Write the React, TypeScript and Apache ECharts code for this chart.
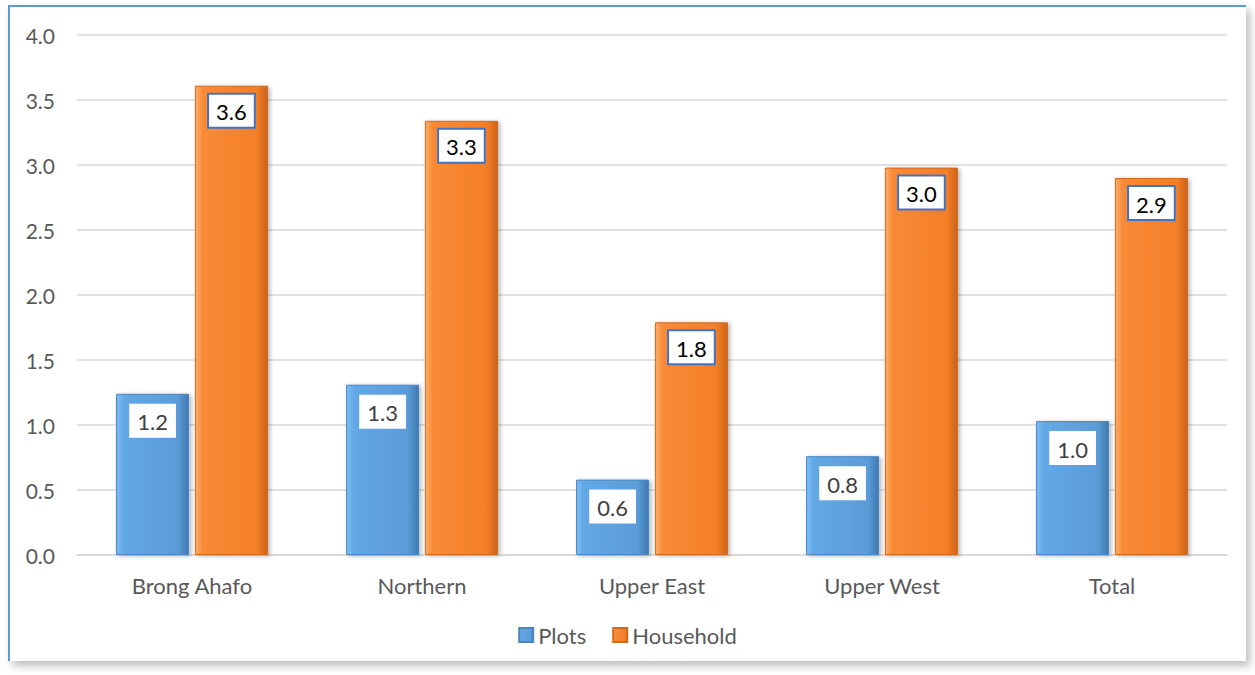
import React, { useEffect, useRef } from "react";
import * as echarts from "echarts";

const categories = ["Brong Ahafo", "Northern", "Upper East", "Upper West", "Total"];
const plots = [1.24, 1.31, 0.58, 0.76, 1.03];
const household = [3.61, 3.34, 1.79, 2.98, 2.9];
const yTicks = { min: 0, max: 4, interval: 0.5 };

const FONT = "Lato";

const blueGrad = new echarts.graphic.LinearGradient(0, 0, 1, 0, [
  { offset: 0, color: "#7DBDF2" },
  { offset: 0.1, color: "#63A8E6" },
  { offset: 0.85, color: "#5B9CD8" },
  { offset: 1, color: "#3F78B0" },
]);
const orangeGrad = new echarts.graphic.LinearGradient(0, 0, 1, 0, [
  { offset: 0, color: "#FDAE6C" },
  { offset: 0.1, color: "#F98A36" },
  { offset: 0.85, color: "#F37F28" },
  { offset: 1, color: "#CC6217" },
]);

export default function App() {
  const ref = useRef<HTMLDivElement>(null);
  useEffect(() => {
    document.body.style.margin = "0";
    const chart = echarts.init(ref.current!, null, { renderer: "svg" });
    chart.setOption({
      animation: false,
      textStyle: { fontFamily: FONT },
      grid: { left: 77, right: 28, top: 35, bottom: 120 },
      legend: {
        data: ["Plots", "Household"],
        bottom: 24,
        left: "center",
        itemWidth: 14,
        itemHeight: 14,
        itemGap: 26,
        icon: "rect",
        textStyle: { fontSize: 22, color: "#595959", fontFamily: FONT },
      },
      xAxis: {
        type: "category",
        data: categories,
        axisLine: { show: true, lineStyle: { color: "#D9D9D9", width: 1.5 } },
        axisTick: { show: false },
        axisLabel: { fontSize: 22, color: "#595959", margin: 19, fontFamily: FONT },
      },
      yAxis: {
        type: "value",
        min: yTicks.min,
        max: yTicks.max,
        interval: yTicks.interval,
        axisLine: { show: false },
        axisTick: { show: false },
        splitLine: { lineStyle: { color: "#D9D9D9", width: 1.5 } },
        axisLabel: {
          fontSize: 21,
          color: "#595959",
          margin: 22,
          fontFamily: FONT,
          formatter: (v: number) => v.toFixed(1),
        },
      },
      series: [
        {
          name: "Plots",
          type: "bar",
          data: plots,
          barWidth: 73,
          barGap: "8%",
          itemStyle: {
            color: blueGrad,
            borderColor: "#4A86C0",
            borderWidth: 1,
            shadowColor: "rgba(0,0,0,0.3)",
            shadowBlur: 4,
            shadowOffsetX: 2,
            shadowOffsetY: 1,
          },
          label: {
            show: true,
            position: "insideTop",
            distance: 10,
            formatter: (p: any) => Number(p.value).toFixed(1),
            backgroundColor: "#FFFFFF",
            padding: [7, 8, 5, 8],
            fontSize: 22,
            color: "#404040",
            fontFamily: FONT,
          },
        },
        {
          name: "Household",
          type: "bar",
          data: household,
          barWidth: 73,
          itemStyle: {
            color: orangeGrad,
            borderColor: "#D26A1E",
            borderWidth: 1,
            shadowColor: "rgba(0,0,0,0.3)",
            shadowBlur: 4,
            shadowOffsetX: 2,
            shadowOffsetY: 1,
          },
          label: {
            show: true,
            position: "insideTop",
            distance: 9,
            formatter: (p: any) => Number(p.value).toFixed(1),
            backgroundColor: "#FFFFFF",
            borderColor: "#4472C4",
            borderWidth: 2,
            padding: [6, 7, 4, 7],
            fontSize: 22,
            color: "#000000",
            fontFamily: FONT,
          },
        },
      ],
    });
    return () => chart.dispose();
  }, []);
  return (
    <div style={{ position: "absolute", left: 0, top: 0, width: 1255, height: 675, background: "#FFFFFF", overflow: "hidden" }}>
      <div
        style={{
          position: "absolute",
          left: 8,
          top: 5,
          width: 1236,
          height: 654,
          borderLeft: "2px solid #5B9BD5",
          borderTop: "2px solid #5B9BD5",
          boxShadow: "4px 5px 8px rgba(0,0,0,0.25)",
          background: "#FFFFFF",
        }}
      />
      <div ref={ref} style={{ position: "absolute", left: 0, top: 0, width: 1255, height: 675 }} />
    </div>
  );
}
